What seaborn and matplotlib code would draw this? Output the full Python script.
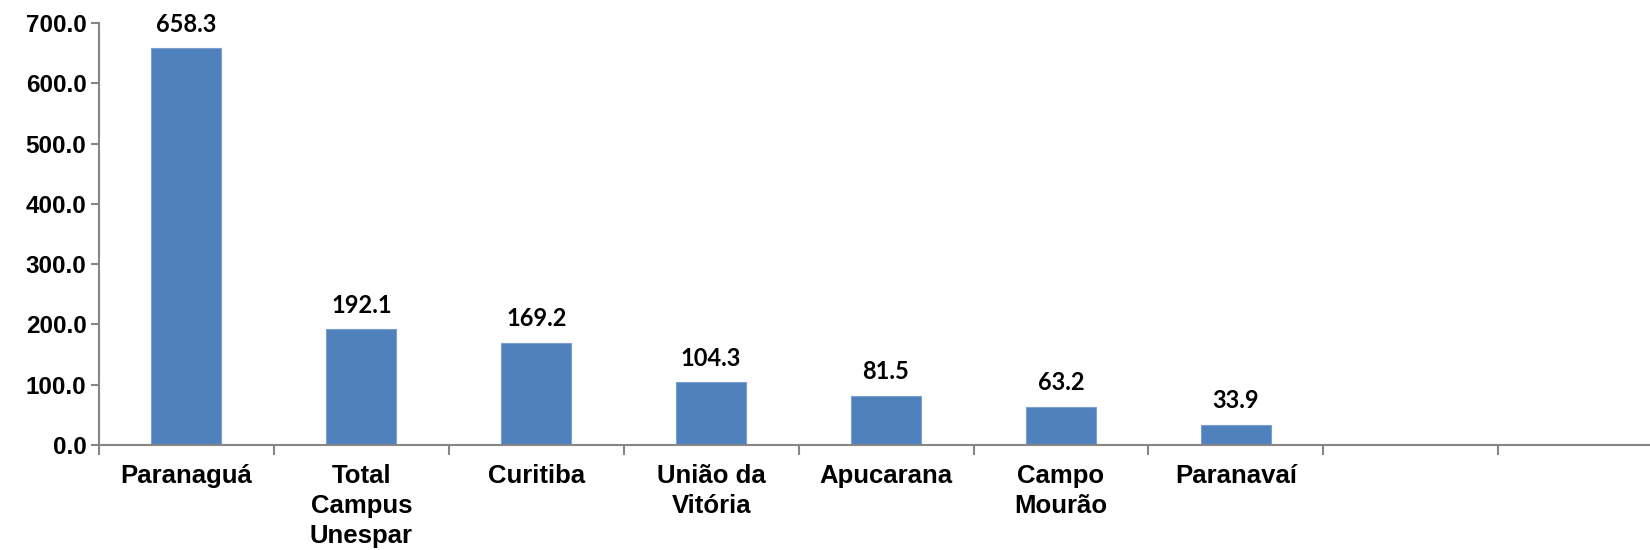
import matplotlib
matplotlib.use("Agg")
import matplotlib.pyplot as plt
import seaborn as sns
import pandas as pd
import numpy as np
from matplotlib.ticker import FixedLocator, FormatStrFormatter

categories = ["Paranaguá", "Total\nCampus\nUnespar", "Curitiba", "União da\nVitória",
              "Apucarana", "Campo\nMourão", "Paranavaí"]
values = [658.3, 192.1, 169.2, 104.3, 81.5, 63.2, 33.9]
n_slots = 9  # two empty category slots at the right
yticks = [0, 100, 200, 300, 400, 500, 600, 700]

sns.set_style("white")
plt.rcParams['font.family'] = ['Liberation Sans', 'DejaVu Sans']

df = pd.DataFrame({"cat": categories, "val": values})

fig = plt.figure(figsize=(16.5, 5.5), dpi=100)
ax = fig.add_axes([0.06, 0.191, 0.954, 0.767])

sns.barplot(data=df, x="cat", y="val", order=categories, color="#4F81BD",
            saturation=1, width=0.4, edgecolor="#7A9FD0", linewidth=0.8, ax=ax)

ax.set_xlim(-0.5, n_slots - 0.5)
ax.set_ylim(0, 700)
ax.set_yticks(yticks)
ax.yaxis.set_major_formatter(FormatStrFormatter("%.1f"))
ax.set_xlabel("")
ax.set_ylabel("")

for s in ["top", "right"]:
    ax.spines[s].set_visible(False)
for s in ["left", "bottom"]:
    ax.spines[s].set_color("#868686")
    ax.spines[s].set_linewidth(1.5)

ax.tick_params(axis="y", which="major", left=True, direction="out", length=6, width=1.5,
               color="#868686", labelsize=17.5, labelcolor="black", pad=3)
for lab in ax.get_yticklabels():
    lab.set_fontweight("bold")

# category labels at centers, tick marks at category boundaries
ax.set_xticks(range(len(categories)))
ax.set_xticklabels(categories, fontsize=18.5, fontweight="bold", linespacing=1.3)
ax.tick_params(axis="x", which="major", bottom=True, length=0, pad=14, labelcolor="black")
ax.xaxis.set_minor_locator(FixedLocator(np.arange(n_slots + 1) - 0.5))
ax.tick_params(axis="x", which="minor", bottom=True, direction="out", length=7, width=1.5,
               color="#868686")
for lab in ax.get_xticklabels():
    lab.set_verticalalignment("top")
    lab.set_horizontalalignment("center")

for i, v in enumerate(values):
    ax.annotate(f"{v:.1f}", xy=(i, v), xytext=(0, 9), textcoords="offset points",
                ha="center", va="bottom", fontsize=17, fontweight="bold",
                family=["Lato", "DejaVu Sans"], color="black")

fig.savefig("out.png", dpi=100)
